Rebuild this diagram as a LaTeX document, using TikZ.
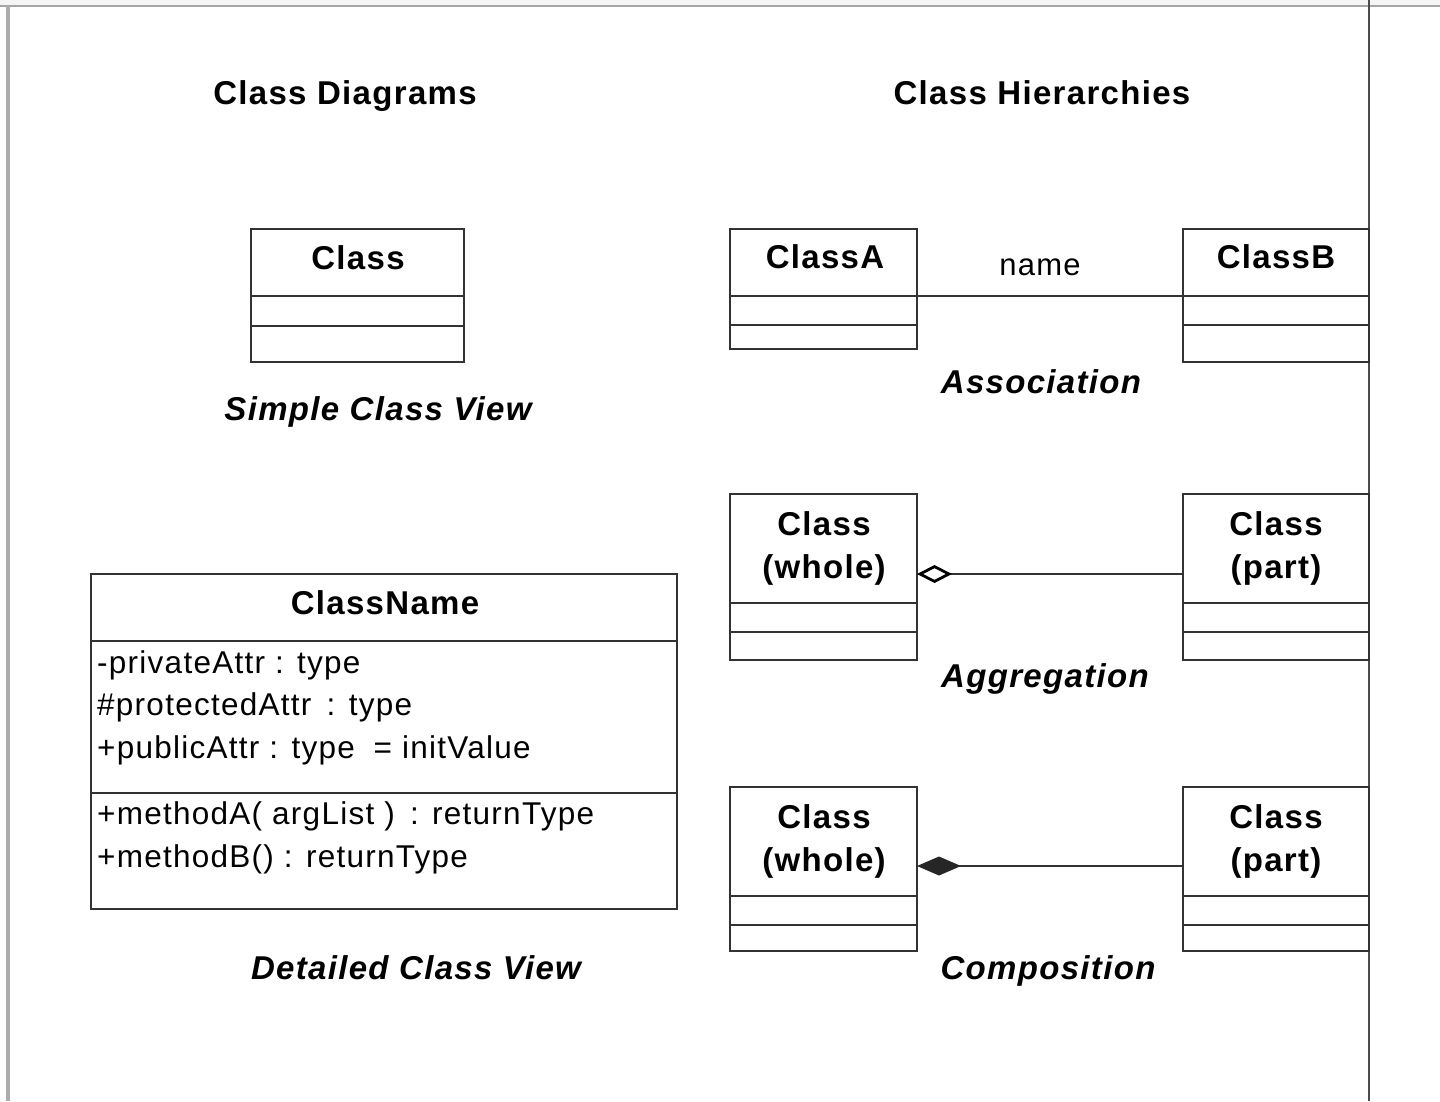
\documentclass[tikz,border=0pt]{standalone}
\usepackage{fontspec}
\setmainfont[LetterSpace=4]{Liberation Sans}
\usetikzlibrary{arrows.meta}
\definecolor{boxline}{HTML}{333333}
\begin{document}
\begin{tikzpicture}[x=1pt,y=-1pt,
  umlbox/.style={draw=boxline, line width=2.8pt, rectangle, inner sep=0pt, outer sep=0pt, anchor=north west},
  divline/.style={draw=boxline, line width=2.8pt},
  conn/.style={draw=boxline, line width=2.8pt},
  heading/.style={font=\fontsize{33}{40}\selectfont\bfseries, anchor=base, inner sep=0pt},
  cname/.style={font=\fontsize{33}{43}\selectfont\bfseries, anchor=base, align=center, inner sep=0pt},
  caption/.style={font=\fontsize{33}{40}\selectfont\bfseries\itshape, anchor=base, inner sep=0pt},
  member/.style={font=\fontsize{31.5}{42.5}\selectfont, anchor=base west, align=left, inner sep=0pt},
  plain/.style={font=\fontsize{31}{40}\selectfont, anchor=base, inner sep=0pt}]
\useasboundingbox (0,0) rectangle (1440,1101);
\fill[white] (0,0) rectangle (1440,1101);

% window frame
\fill[gray!8] (0,0) rectangle (1440,5);
\draw[gray!70, line width=2.5pt] (0,6) -- (1440,6);
\draw[gray!65, line width=4pt] (8,6) -- (8,1101);
\draw[black!70, line width=2.5pt] (1369,0) -- (1369,1101);

% headings
\node[heading] (hdiag) at (345,104) {Class Diagrams};
\node[heading] (hhier) at (1042,104) {Class Hierarchies};

% simple class view
\node[umlbox, minimum width=213pt, minimum height=133pt] (simple) at (251,229) {};
\draw[divline] ([yshift=-67pt]simple.north west) -- ([yshift=-67pt]simple.north east);
\draw[divline] ([yshift=-97pt]simple.north west) -- ([yshift=-97pt]simple.north east);
\node[cname] (simpleName) at (358,269) {Class};
\node[caption] (capSimple) at (378,420) {Simple Class View};

% detailed class view (multi-line nodes sit on the baseline of their last line)
\node[umlbox, minimum width=586pt, minimum height=335pt] (detail) at (91,574) {};
\draw[divline] ([yshift=-67pt]detail.north west) -- ([yshift=-67pt]detail.north east);
\draw[divline] ([yshift=-219pt]detail.north west) -- ([yshift=-219pt]detail.north east);
\node[cname] (detailName) at (385,614) {ClassName};
\node[member] (attrs) at (97,758) {-privateAttr : type\\\#protectedAttr \,: type\\+publicAttr : type \;= initValue};
\node[member] (ops) at (97,867) {+methodA( argList ) \,: returnType\\+methodB() : returnType};
\node[caption] (capDetail) at (416,979) {Detailed Class View};

% association
\node[umlbox, minimum width=187pt, minimum height=120pt] (clsA) at (730,229) {};
\draw[divline] ([yshift=-67pt]clsA.north west) -- ([yshift=-67pt]clsA.north east);
\draw[divline] ([yshift=-96pt]clsA.north west) -- ([yshift=-96pt]clsA.north east);
\node[cname] (nameA) at (825,268) {ClassA};
\node[umlbox, minimum width=186pt, minimum height=133pt] (clsB) at (1183,229) {};
\draw[divline] ([yshift=-67pt]clsB.north west) -- ([yshift=-67pt]clsB.north east);
\draw[divline] ([yshift=-96pt]clsB.north west) -- ([yshift=-96pt]clsB.north east);
\node[cname] (nameB) at (1276,268) {ClassB};
\draw[conn] ([yshift=-67pt]clsA.north east) -- ([yshift=-67pt]clsB.north west);
\node[plain] (assocName) at (1040,275) {name};
\node[caption] (capAssoc) at (1041,393) {Association};

% aggregation
\node[umlbox, minimum width=187pt, minimum height=166pt] (wholeAg) at (730,494) {};
\draw[divline] ([yshift=-109pt]wholeAg.north west) -- ([yshift=-109pt]wholeAg.north east);
\draw[divline] ([yshift=-138pt]wholeAg.north west) -- ([yshift=-138pt]wholeAg.north east);
\node[cname] (wholeAgName) at (824,578) {Class\\(whole)};
\node[umlbox, minimum width=186pt, minimum height=166pt] (partAg) at (1183,494) {};
\draw[divline] ([yshift=-109pt]partAg.north west) -- ([yshift=-109pt]partAg.north east);
\draw[divline] ([yshift=-138pt]partAg.north west) -- ([yshift=-138pt]partAg.north east);
\node[cname] (partAgName) at (1276,578) {Class\\(part)};
\draw[conn, {Diamond[open, length=35pt, width=18pt, line width=2.8pt, color=black]}-]
  ([yshift=-80pt]wholeAg.north east) -- ([yshift=-80pt]partAg.north west);
\node[caption] (capAggr) at (1045,687) {Aggregation};

% composition
\node[umlbox, minimum width=187pt, minimum height=164pt] (wholeCo) at (730,787) {};
\draw[divline] ([yshift=-109pt]wholeCo.north west) -- ([yshift=-109pt]wholeCo.north east);
\draw[divline] ([yshift=-138pt]wholeCo.north west) -- ([yshift=-138pt]wholeCo.north east);
\node[cname] (wholeCoName) at (824,871) {Class\\(whole)};
\node[umlbox, minimum width=186pt, minimum height=164pt] (partCo) at (1183,787) {};
\draw[divline] ([yshift=-109pt]partCo.north west) -- ([yshift=-109pt]partCo.north east);
\draw[divline] ([yshift=-138pt]partCo.north west) -- ([yshift=-138pt]partCo.north east);
\node[cname] (partCoName) at (1276,871) {Class\\(part)};
\draw[conn, {Diamond[length=44pt, width=19pt, color=black!85]}-]
  ([yshift=-79pt]wholeCo.north east) -- ([yshift=-79pt]partCo.north west);
\node[caption] (capComp) at (1048,979) {Composition};
\end{tikzpicture}
\end{document}
